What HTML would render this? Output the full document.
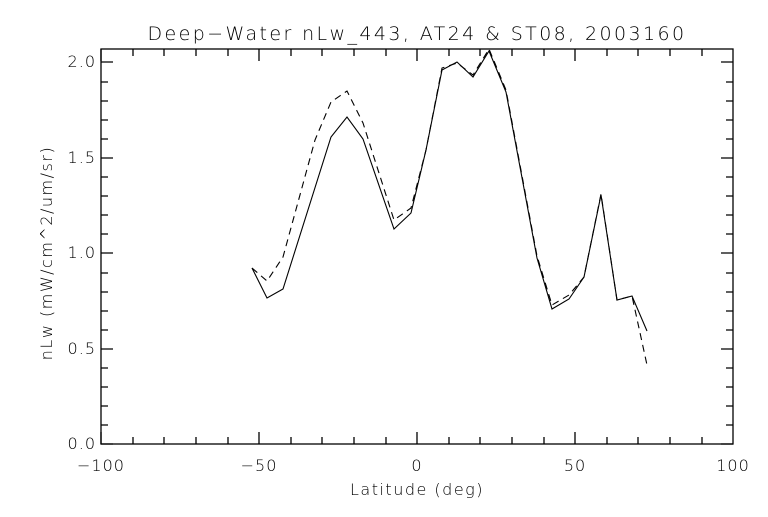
<!DOCTYPE html>
<html><head><meta charset="utf-8"><style>
html,body{margin:0;padding:0;background:#fff;}
svg text{font-family:"DejaVu Sans","Liberation Sans",sans-serif;font-size:16px;fill:#000;font-weight:300;}
</style></head><body>
<svg width="768" height="512" xmlns="http://www.w3.org/2000/svg">
<rect width="768" height="512" fill="#fff"/>
<g stroke="#000" stroke-width="1.3" fill="none">
<rect x="101" y="49" width="632" height="395"/>
<path d="
M101,444v-12 M133,444v-7 M164,444v-7 M196,444v-7 M228,444v-7 M259,444v-12 M291,444v-7 M322,444v-7 M354,444v-7 M386,444v-7 M417,444v-12 M449,444v-7 M480,444v-7 M512,444v-7 M544,444v-7 M575,444v-12 M607,444v-7 M638,444v-7 M670,444v-7 M702,444v-7
M101,49v12 M133,49v7 M164,49v7 M196,49v7 M228,49v7 M259,49v12 M291,49v7 M322,49v7 M354,49v7 M386,49v7 M417,49v12 M449,49v7 M480,49v7 M512,49v7 M544,49v7 M575,49v12 M607,49v7 M638,49v7 M670,49v7 M702,49v7
"/>
<path d="M101,444h12 M101,425h7 M101,406h7 M101,387h7 M101,368h7 M101,349h12 M101,330h7 M101,311h7 M101,292h7 M101,273h7 M101,253h12 M101,234h7 M101,215h7 M101,196h7 M101,177h7 M101,158h12 M101,139h7 M101,120h7 M101,101h7 M101,82h7 M101,62h12
M733,444h-12 M733,425h-7 M733,406h-7 M733,387h-7 M733,368h-7 M733,349h-12 M733,330h-7 M733,311h-7 M733,292h-7 M733,273h-7 M733,253h-12 M733,234h-7 M733,215h-7 M733,196h-7 M733,177h-7 M733,158h-12 M733,139h-7 M733,120h-7 M733,101h-7 M733,82h-7 M733,62h-12"/>
</g>
<polyline fill="none" stroke="#000" stroke-width="1.1" points="252,268 267,298 283,289 331,137 347,117 363,139 394,229 411,213 426,150 442,70 457,62 473,77 489,51 506,92 537,258 552,309 569,299 584,277 601,195 617,300 632,296 647,331"/>
<polyline fill="none" stroke="#000" stroke-width="1.1" stroke-dasharray="7,5" points="252,268 267,281 283,257 315,140 331,102 347,91 363,123 394,220 411,208 426,150 442,68 457,63 473,75 489,49 506,90 537,256 552,305 569,295 584,277 601,194 617,300 632,296 647,365"/>
<g text-anchor="end" style="font-size:17px;letter-spacing:1px">
<text x="96" y="449">0.0</text><text x="96" y="354">0.5</text><text x="96" y="258">1.0</text><text x="96" y="163">1.5</text><text x="96" y="67">2.0</text>
</g>
<g text-anchor="middle">
<g style="font-size:17px;letter-spacing:1px">
<text x="101" y="471">−100</text><text x="259" y="471">−50</text><text x="417" y="471">0</text><text x="575" y="471">50</text><text x="733" y="471">100</text>
</g>
<text x="417" y="495" style="letter-spacing:1.5px">Latitude (deg)</text>
<text x="417" y="40" style="font-size:19px;letter-spacing:2.4px">Deep−Water nLw_443, AT24 &amp; ST08, 2003160</text>
<text transform="translate(52,253) rotate(-90)" style="letter-spacing:1.5px">nLw (mW/cm^2/um/sr)</text>
</g>
</svg>
</body></html>
